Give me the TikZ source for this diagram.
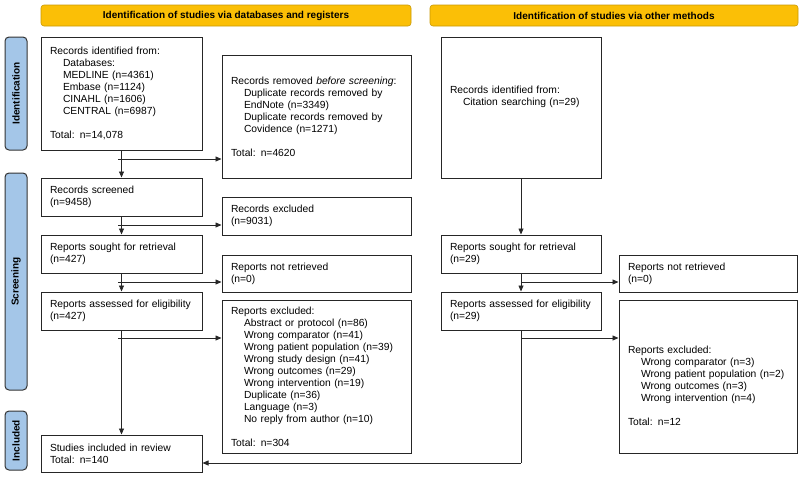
\documentclass[tikz,border=0pt]{standalone}
\usepackage{fontspec}
\setmainfont{Liberation Sans}
\usetikzlibrary{arrows.meta}
\definecolor{hdr}{HTML}{FBBF06}
\definecolor{side}{HTML}{A4C6E8}
\begin{document}
\begin{tikzpicture}[x=1pt,y=-1pt,
  box/.style={draw=black!85,line width=1pt,inner sep=0pt,font=\fontsize{10.3}{12}\selectfont,align=left},
  hd/.style={draw=hdr!80!black,fill=hdr,rounded corners=3pt,line width=0.6pt,font=\bfseries\fontsize{10}{12}\selectfont},
  sd/.style={draw=black!80,fill=side,rounded corners=4pt,line width=1pt,font=\bfseries\fontsize{10}{12}\selectfont},
  arr/.style={draw=black!85,line width=0.8pt,-{Triangle[length=6pt,width=5pt]}},
  ln/.style={draw=black!85,line width=0.8pt}]
\newcommand{\bx}[6]{\node[box,minimum width=#4-#2,minimum height=#5-#3,text width=#4-#2-18] (#1) at ({(#2+#4)/2},{(#3+#5)/2}) {#6};}
\newcommand{\ind}{\hspace*{13pt}}
\useasboundingbox (0,0) rectangle (800,477);
\node[hd,minimum width=370,minimum height=21] (h1) at (226,15.5) {Identification of studies via databases and registers};
\node[hd,minimum width=368,minimum height=21] (h2) at (614,15.5) {Identification of studies via other methods};
\node[sd,minimum width=113,minimum height=22,rotate=90] (s1) at (16,93.5) {Identification};
\node[sd,minimum width=217,minimum height=22,rotate=90] (s2) at (16,281.5) {Screening};
\node[sd,minimum width=59,minimum height=22,rotate=90] (s3) at (16,440.5) {Included};
\bx{a}{41}{37}{202}{150}{Records identified from:\\\ind Databases:\\\ind MEDLINE (n=4361)\\\ind Embase (n=1124)\\\ind CINAHL (n=1606)\\\ind CENTRAL (n=6987)\\[12pt]Total: n=14,078}
\bx{b}{222}{55}{411}{178}{Records removed \textit{before screening}:\\\ind Duplicate records removed by\\\ind EndNote (n=3349)\\\ind Duplicate records removed by\\\ind Covidence (n=1271)\\[12pt]Total: n=4620}
\bx{c}{41}{178}{202}{216}{Records screened\\(n=9458)}
\bx{d}{222}{197}{411}{235}{Records excluded\\(n=9031)}
\bx{e}{41}{235}{202}{273}{Reports sought for retrieval\\(n=427)}
\bx{f}{222}{255}{411}{292}{Reports not retrieved\\(n=0)}
\bx{g}{41}{292}{202}{330}{Reports assessed for eligibility\\(n=427)}
\bx{h}{222}{300}{411}{453}{Reports excluded:\\\ind Abstract or protocol (n=86)\\\ind Wrong comparator (n=41)\\\ind Wrong patient population (n=39)\\\ind Wrong study design (n=41)\\\ind Wrong outcomes (n=29)\\\ind Wrong intervention (n=19)\\\ind Duplicate (n=36)\\\ind Language (n=3)\\\ind No reply from author (n=10)\\[12pt]Total: n=304}
\bx{i}{41}{435}{202}{472}{Studies included in review\\Total: n=140}
\bx{j}{441}{37}{601}{178}{Records identified from:\\\ind Citation searching (n=29)\\\mbox{}\\\mbox{}}
\bx{k}{441}{235}{601}{273}{Reports sought for retrieval\\(n=29)}
\bx{l}{619}{255}{797}{292}{Reports not retrieved\\(n=0)}
\bx{m}{441}{292}{601}{330}{Reports assessed for eligibility\\(n=29)}
\bx{n}{619}{300}{797}{453}{\mbox{}\\[14pt]Reports excluded:\\\ind Wrong comparator (n=3)\\\ind Wrong patient population (n=2)\\\ind Wrong outcomes (n=3)\\\ind Wrong intervention (n=4)\\[12pt]Total: n=12}
\coordinate (p1) at (118,159);
\coordinate (p2) at (118,225);
\coordinate (p3) at (118,282);
\coordinate (p4) at (118,338);
\coordinate (q3) at (521,282);
\coordinate (q4) at (521,338);
\coordinate (q5) at (521,463);
\draw[arr] (a.south) -- (c.north);
\draw[arr] (p1) -- (p1 -| b.west);
\draw[arr] (c.south) -- (e.north);
\draw[arr] (p2) -- (p2 -| d.west);
\draw[arr] (e.south) -- (g.north);
\draw[arr] (p3) -- (p3 -| f.west);
\draw[arr] (g.south) -- (i.north);
\draw[arr] (p4) -- (p4 -| h.west);
\draw[arr] (j.south) -- (k.north);
\draw[arr] (k.south) -- (m.north);
\draw[arr] (q3) -- (q3 -| l.west);
\draw[arr] (q4) -- (q4 -| n.west);
\draw[ln] (m.south) -- (q5);
\draw[arr] (q5) -- (q5 -| i.east);
\end{tikzpicture}
\end{document}
